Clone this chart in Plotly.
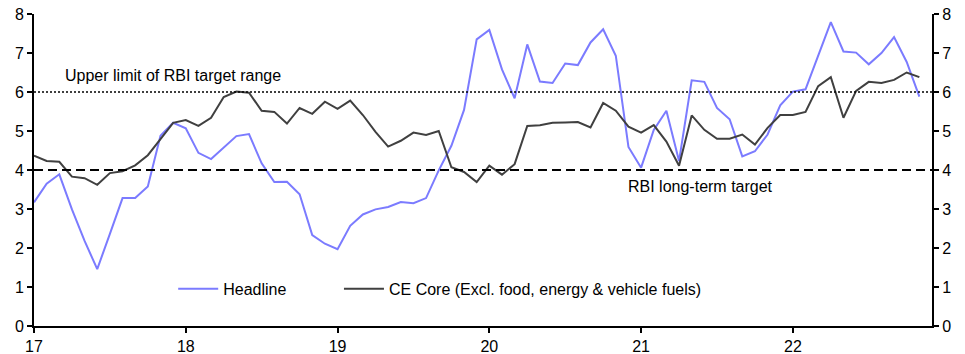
import plotly.graph_objects as go

start_year = 17
headline = [3.17, 3.65, 3.89, 2.99, 2.18, 1.46, 2.36, 3.28, 3.28, 3.58, 4.88, 5.21,
            5.07, 4.44, 4.28, 4.58, 4.87, 4.92, 4.17, 3.69, 3.70, 3.38, 2.33, 2.11,
            1.97, 2.57, 2.86, 2.99, 3.05, 3.18, 3.15, 3.28, 3.99, 4.62, 5.54, 7.35,
            7.59, 6.58, 5.84, 7.22, 6.27, 6.23, 6.73, 6.69, 7.27, 7.61, 6.93, 4.59,
            4.06, 5.03, 5.52, 4.23, 6.30, 6.26, 5.59, 5.30, 4.35, 4.48, 4.91, 5.66,
            6.01, 6.07, 6.95, 7.79, 7.04, 7.01, 6.71, 7.00, 7.41, 6.77, 5.88]
core = [4.37, 4.23, 4.21, 3.83, 3.79, 3.62, 3.92, 3.97, 4.12, 4.38, 4.79, 5.21,
        5.28, 5.13, 5.34, 5.87, 6.01, 5.98, 5.52, 5.49, 5.19, 5.59, 5.44, 5.75,
        5.57, 5.78, 5.41, 4.98, 4.60, 4.75, 4.96, 4.90, 5.00, 4.07, 3.95, 3.69,
        4.11, 3.88, 4.15, 5.13, 5.15, 5.21, 5.22, 5.23, 5.09, 5.72, 5.52, 5.11,
        4.96, 5.15, 4.73, 4.11, 5.40, 5.03, 4.80, 4.80, 4.91, 4.65, 5.08, 5.41,
        5.41, 5.49, 6.15, 6.38, 5.34, 6.03, 6.26, 6.23, 6.31, 6.50, 6.38]
year_ticks = [17, 18, 19, 20, 21, 22]
year_labels = ["17", "18", "19", "20", "21", "22"]
y_ticks = [0, 1, 2, 3, 4, 5, 6, 7, 8]
upper_limit = 6
long_term_target = 4

x = [start_year + i / 12 for i in range(len(headline))]
x_end = start_year + len(headline) / 12

FONT = "Liberation Sans, Arial, sans-serif"
fig = go.Figure()
fig.add_trace(go.Scatter(x=x, y=headline, mode="lines", name="Headline",
                         legend="legend",
                         line=dict(color="#7B7BFF", width=2)))
fig.add_trace(go.Scatter(x=x, y=core, mode="lines",
                         name="CE Core (Excl. food, energy & vehicle fuels)",
                         legend="legend2",
                         line=dict(color="#404040", width=2)))
fig.add_trace(go.Scatter(x=[x[0]], y=[core[0]], yaxis="y2", mode="lines",
                         showlegend=False, hoverinfo="skip",
                         line=dict(color="rgba(0,0,0,0)")))

fig.add_shape(type="line", xref="paper", x0=0, x1=1, yref="y",
              y0=upper_limit, y1=upper_limit,
              line=dict(color="black", width=1.5, dash="2px,2px"))
fig.add_shape(type="line", xref="paper", x0=0, x1=1, yref="y",
              y0=long_term_target, y1=long_term_target,
              line=dict(color="black", width=2, dash="9px,5px"))

fig.add_annotation(x=start_year + 0.19, y=upper_limit + 0.42, xref="x", yref="y",
                   text="Upper limit of RBI target range", showarrow=False,
                   xanchor="left", yanchor="middle", font=dict(size=16, color="black"))
fig.add_annotation(x=20.9, y=long_term_target - 0.42, xref="x", yref="y",
                   text="RBI long-term target", showarrow=False,
                   xanchor="left", yanchor="middle", font=dict(size=16, color="black"))

axis_common = dict(showgrid=False, zeroline=False, showline=True, linecolor="black",
                   linewidth=2, ticks="outside", ticklen=5, tickwidth=1.5,
                   tickcolor="black", tickfont=dict(size=16, color="black"),
                   automargin=False)

legend_common = dict(orientation="h", y=0.119, xanchor="left", yanchor="middle",
                     bgcolor="rgba(0,0,0,0)", font=dict(size=16, color="black"),
                     itemwidth=40)

fig.update_layout(
    width=965, height=354,
    margin=dict(l=34, r=33, t=14, b=28),
    paper_bgcolor="white", plot_bgcolor="white",
    font=dict(family=FONT, size=16, color="black"),
    xaxis=dict(range=[start_year, x_end], tickvals=year_ticks, ticktext=year_labels,
               **axis_common),
    yaxis=dict(range=[0, 8], tickvals=y_ticks, **axis_common),
    yaxis2=dict(range=[0, 8], tickvals=y_ticks, overlaying="y", side="right",
                **axis_common),
    legend=dict(x=0.155, **legend_common),
    legend2=dict(x=0.3396, **legend_common),
    showlegend=True,
)

fig.write_html("out.html")
